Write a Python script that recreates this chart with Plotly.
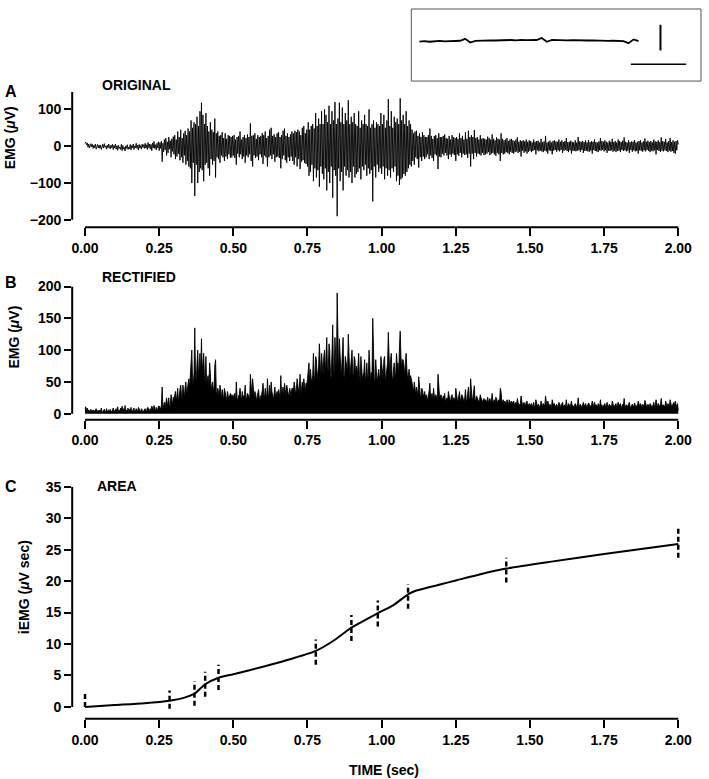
import plotly.graph_objects as go

# ---------------- data ----------------
SAMPLE_DT = 0.0025  # seconds between the read samples
emg_original_uv = [
    8, 11, 4, 9, -3, 6, -5, 2, 7, -2, 5, -6, 3, -4, 6, -8, 2, 5, -5, 3,
    -6, 3, -9, 2, 5, -5, 7, -3, 1, -8, 3, -5, 6, -2, -7, 3, -4, 5, -9, 2,
    -5, 6, -8, 1, -11, 3, -6, -2, -9, 5, -12, 2, -8, -3, -13, 1, -6, 4, -9, -2,
    -7, 5, -10, 2, -5, 6, -9, 1, -4, 8, -6, 3, -10, 5, -5, 2, -8, 6, -3, 4,
    -6, 8, -5, 4, -9, 10, -4, 6, -8, 5, -12, 9, -5, 13, -6, 4, -10, 8, -5, 12,
    -12, 10, -6, 14, -42, 8, -15, 18, -10, 22, -25, 12, -18, 25, -8, 15, -30, 20, -14, 26,
    -22, 30, -35, 18, -28, 40, -20, 25, -38, 45, -30, 22, -45, 35, -25, 42, -50, 30, -40, 48,
    -55, 40, -60, 70, -100, 50, -45, 65, -135, 60, -50, 80, -100, 55, -70, 95, -60, 118, -65, 85,
    -95, 60, -50, 90, -45, 55, -60, 40, -80, 65, -35, 45, -50, 38, -40, 75, -85, 35, -30, 40,
    -35, 28, -45, 30, -25, 38, -30, 22, -40, 35, -28, 20, -35, 30, -22, 28, -32, 25, -30, 28,
    -25, 30, -32, 18, -50, 25, -20, 28, -30, 40, -22, 18, -35, 25, -28, 30, -45, 22, -25, 32,
    -30, 25, -22, 62, -40, 28, -55, 30, -25, 35, -32, 20, -28, 30, -38, 25, -22, 28, -30, 36,
    -48, 30, -25, 40, -30, 22, -55, 28, -30, 45, -25, 50, -35, 28, -22, 32, -42, 25, -30, 35,
    -28, 38, -32, 25, -60, 30, -35, 42, -25, 48, -38, 28, -45, 35, -30, 25, -40, 32, -28, 40,
    -40, 35, -50, 42, -30, 38, -55, 45, -35, 40, -62, 30, -42, 50, -38, 55, -45, 35, -48, 45,
    -55, 65, -80, 45, -70, 55, -50, 60, -95, 48, -60, 90, -85, 55, -65, 75, -110, 60, -55, 95,
    -75, 60, -90, 100, -60, 85, -120, 65, -70, 110, -100, 60, -55, 95, -140, 70, -65, 120, -80, 60,
    -190, 75, -60, 118, -95, 65, -70, 105, -120, 60, -55, 90, -80, 70, -65, 125, -85, 60, -70, 80,
    -100, 65, -55, 90, -85, 60, -75, 55, -70, 95, -60, 50, -90, 70, -55, 60, -65, 85, -50, 60,
    -80, 55, -60, 100, -75, 50, -65, 60, -150, 70, -55, 50, -85, 65, -50, 60, -70, 55, -60, 90,
    -75, 60, -55, 85, -90, 50, -60, 70, -80, 128, -65, 55, -85, 95, -60, 50, -70, 80, -55, 65,
    -95, 75, -80, 60, -105, 130, -90, 70, -85, 85, -75, 60, -80, 95, -70, 55, -60, 70, -50, 60,
    -55, 45, -40, 35, -50, 40, -30, 42, -35, 28, -58, 35, -30, 25, -40, 38, -28, 30, -35, 25,
    -30, 25, -22, 30, -35, 48, -25, 28, -32, 20, -40, 28, -22, 30, -25, 22, -62, 35, -28, 25,
    -30, 25, -20, 28, -25, 32, -18, 22, -25, 20, -35, 28, -22, 18, -28, 30, -20, 25, -24, 22,
    -40, 25, -22, 20, -26, 35, -18, 22, -30, 28, -20, 18, -24, 38, -22, 20, -32, 42, -20, 25,
    -55, 30, -20, 25, -35, 44, -18, 22, -28, 25, -20, 18, -22, 30, -25, 20, -18, 22, -24, 20,
    -22, 18, -20, 26, -16, 22, -24, 18, -20, 32, -18, 20, -22, 16, -26, 24, -18, 20, -22, 18,
    -40, 35, -18, 20, -22, 16, -20, 18, -16, 22, -18, 14, -22, 18, -15, 20, -18, 16, -20, 14,
    -16, 18, -14, 24, -18, 12, -15, 16, -28, 14, -12, 16, -18, 13, -14, 18, -20, 12, -15, 16,
    -12, 14, -16, 10, -13, 18, -10, 12, -22, 14, -11, 15, -14, 10, -12, 20, -14, 11, -16, 13,
    -12, 28, -14, 10, -20, 12, -11, 15, -13, 10, -22, 14, -12, 16, -10, 13, -15, 12, -11, 18,
    -14, 12, -10, 16, -18, 11, -12, 14, -10, 22, -13, 11, -16, 12, -11, 15, -20, 12, -13, 10,
    -12, 16, -14, 10, -12, 25, -11, 13, -15, 12, -10, 14, -18, 11, -13, 16, -12, 10, -14, 17,
    -15, 11, -12, 14, -20, 12, -10, 18, -13, 11, -14, 10, -16, 13, -11, 22, -12, 14, -10, 12,
    -14, 16, -11, 12, -18, 10, -12, 15, -13, 12, -11, 20, -15, 11, -12, 14, -16, 10, -13, 18,
    -12, 14, -16, 11, -10, 15, -13, 24, -11, 12, -14, 10, -12, 16, -18, 11, -10, 13, -15, 12,
    -11, 17, -14, 10, -13, 12, -20, 14, -11, 16, -12, 10, -15, 13, -11, 21, -14, 12, -10, 15,
    -13, 11, -16, 14, -12, 10, -14, 18, -11, 13, -22, 12, -10, 16, -13, 11, -15, 24, -12, 14,
    -14, 12, -11, 20, -13, 10, -16, 14, -12, 22, -15, 11, -13, 16, -18, 12, -20, 14, -11, 16,
    5,
]

area_time_s = [0, 0.1, 0.2, 0.285, 0.33, 0.369, 0.405, 0.45, 0.5, 0.6, 0.7, 0.778, 0.84,
               0.898, 0.987, 1.04, 1.089, 1.117, 1.2, 1.25, 1.333, 1.42, 1.572, 1.75, 2.0]
area_iemg = [0.0, 0.3, 0.6, 1.0, 1.4, 2.1, 3.6, 4.65, 5.2, 6.4, 7.7, 8.9, 10.6,
             12.6, 14.9, 16.2, 17.9, 18.5, 19.5, 20.1, 21.1, 22.0, 23.1, 24.3, 25.9]

marker_time_s = [0, 0.285, 0.369, 0.405, 0.45, 0.778, 0.898, 0.987, 1.089, 1.42, 2.0]
marker_low = [0.0, -0.3, 0.2, 1.6, 2.7, 6.7, 10.5, 12.8, 15.6, 19.8, 23.7]
marker_high = [2.5, 2.6, 4.1, 5.6, 6.7, 10.7, 14.6, 16.9, 19.5, 23.7, 28.7]

inset_trace = [-1.0, -0.5, -1.2, -0.8, -0.3, -0.9, -0.6, -0.4, -0.2, 1.8, -2.0, -0.3, 0.0,
               -0.2, 0.3, 0.1, 0.4, 0.2, 0.6, 0.3, 0.8, 0.5, 0.9, 0.6, 2.6, -1.2, 0.7, 0.4,
               0.6, 0.3, 0.5, 0.2, 0.4, 0.1, 0.2, -0.2, 0.0, -0.4, -0.2, -0.6, -0.5, -2.6,
               1.2, -0.5]

x_ticks = [0, 0.25, 0.5, 0.75, 1.0, 1.25, 1.5, 1.75, 2.0]
x_tick_text = ["0.00", "0.25", "0.50", "0.75", "1.00", "1.25", "1.50", "1.75", "2.00"]
ticks_a = [-200, -100, 0, 100]
ticks_b = [0, 50, 100, 150, 200]
ticks_c = [0, 5, 10, 15, 20, 25, 30, 35]

time_s = [i * SAMPLE_DT for i in range(len(emg_original_uv))]
emg_rectified_uv = [abs(v) for v in emg_original_uv]

# ---------------- layout helpers ----------------
W, H = 709, 779
FONT = "Liberation Sans, Arial, Helvetica, sans-serif"


def px(x):
    return x / W


def py(y):
    return 1 - y / H


fig = go.Figure()

fig.add_trace(go.Scatter(x=time_s, y=emg_original_uv, mode="lines",
                         line=dict(color="black", width=0.9), xaxis="x", yaxis="y",
                         showlegend=False, hoverinfo="skip"))
fig.add_trace(go.Scatter(x=time_s, y=emg_rectified_uv, mode="lines", fill="tozeroy",
                         fillcolor="black", line=dict(color="black", width=0.9),
                         xaxis="x2", yaxis="y2", showlegend=False, hoverinfo="skip"))
fig.add_trace(go.Scatter(x=area_time_s, y=area_iemg, mode="lines",
                         line=dict(color="black", width=2, shape="spline", smoothing=0.6),
                         xaxis="x3", yaxis="y3", showlegend=False, hoverinfo="skip"))
mx, my = [], []
for t, lo, hi in zip(marker_time_s, marker_low, marker_high):
    mx += [t, t, None]
    my += [lo, hi, None]
fig.add_trace(go.Scatter(x=mx, y=my, mode="lines",
                         line=dict(color="black", width=2.5, dash="5px,3px"),
                         xaxis="x3", yaxis="y3", showlegend=False, hoverinfo="skip"))
fig.add_trace(go.Scatter(x=list(range(len(inset_trace))), y=inset_trace, mode="lines",
                         line=dict(color="black", width=1.8),
                         xaxis="x4", yaxis="y4", showlegend=False, hoverinfo="skip"))

XDOM = [px(72), px(692)]
XRANGE = [-0.0433, 2.0233]
tickfont = dict(family=FONT, size=14, color="black", weight="bold")


def xaxis_cfg(anchor):
    return dict(domain=XDOM, range=XRANGE, anchor=anchor, showgrid=False, zeroline=False,
                showline=False, ticks="outside", ticklen=8, tickwidth=2, tickcolor="black",
                tickvals=x_ticks, ticktext=x_tick_text, tickfont=tickfont, fixedrange=True)


def yaxis_cfg(anchor, dom, rng, tv):
    return dict(domain=dom, range=rng, anchor=anchor, showgrid=False, zeroline=False,
                showline=False, ticks="outside", ticklen=7, tickwidth=2, tickcolor="black",
                tickvals=tv, tickfont=tickfont, fixedrange=True)


fig.update_layout(
    width=W, height=H, autosize=False,
    margin=dict(l=0, r=0, t=0, b=0),
    paper_bgcolor="white", plot_bgcolor="rgba(0,0,0,0)",
    font=dict(family=FONT, color="black"),
    xaxis=xaxis_cfg("y"),
    yaxis=yaxis_cfg("x", [py(222), py(85)], [-219.8, 147.5], ticks_a),
    xaxis2=xaxis_cfg("y2"),
    yaxis2=yaxis_cfg("x2", [py(417), py(282)], [-9.3, 200.3], ticks_b),
    xaxis3=xaxis_cfg("y3"),
    yaxis3=yaxis_cfg("x3", [py(720), py(485)], [-1.88, 35], ticks_c),
    xaxis4=dict(domain=[px(423), px(645)], range=[0, len(inset_trace) - 1], anchor="y4",
                visible=False, fixedrange=True),
    yaxis4=dict(domain=[py(45), py(21)], range=[-12, 12], anchor="x4",
                visible=False, fixedrange=True),
)

shapes = []
axis_line = dict(color="black", width=2)
for xa, ya, ylo, yhi in [("x", "y", -200, 147.5), ("x2", "y2", 0, 200.3), ("x3", "y3", 0, 35)]:
    shapes.append(dict(type="line", xref=xa, yref=ya + " domain", x0=0, x1=2, y0=0, y1=0,
                       line=axis_line))
    shapes.append(dict(type="line", xref=xa + " domain", yref=ya, x0=0, x1=0, y0=ylo, y1=yhi,
                       line=axis_line))
# inset frame and scale bars
shapes.append(dict(type="rect", xref="paper", yref="paper", x0=px(415), x1=px(708),
                   y0=py(74), y1=py(1), line=dict(color="#555555", width=1)))
shapes.append(dict(type="line", xref="paper", yref="paper", x0=px(667), x1=px(667),
                   y0=py(43), y1=py(17), line=dict(color="black", width=2)))
shapes.append(dict(type="line", xref="paper", yref="paper", x0=px(637), x1=px(693),
                   y0=py(57), y1=py(57), line=dict(color="black", width=1.5)))
fig.update_layout(shapes=shapes)

ann = []


def label(text, x, y, size=14, xanchor="center", angle=0):
    ann.append(dict(text=text, x=px(x), y=py(y), xref="paper", yref="paper",
                    xanchor=xanchor, yanchor="middle", showarrow=False, textangle=angle,
                    font=dict(family=FONT, size=size, color="black", weight="bold")))


label("A", 10, 85, size=16)
label("B", 10, 278, size=16)
label("C", 10, 485, size=16)
label("ORIGINAL", 100, 78, xanchor="left")
label("RECTIFIED", 100, 273, xanchor="left")
label("AREA", 95, 484, xanchor="left")
label("EMG (<i>μ</i>V)", 9, 131, angle=-90)
label("EMG (<i>μ</i>V)", 13, 333, angle=-90)
label("iEMG (<i>μ</i>V sec)", 24, 587, angle=-90)
label("TIME (sec)", 387, 772)
fig.update_layout(annotations=ann)

fig.write_html("out.html",
               config={"displayModeBar": False, "staticPlot": True},
               post_script="document.body.style.margin='0px';"
                           "document.body.style.overflow='hidden';")
